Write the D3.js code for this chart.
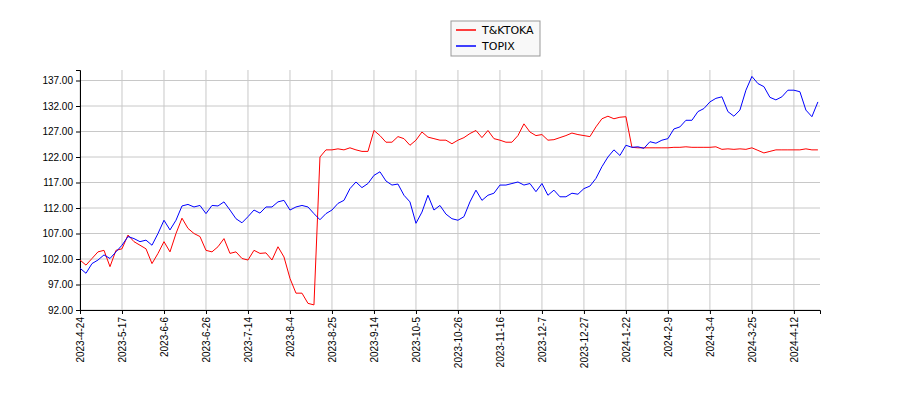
<!DOCTYPE html>
<html>
<head>
<meta charset="utf-8">
<script src="https://cdn.jsdelivr.net/npm/d3@7.9.0/dist/d3.min.js"></script>
<style>
  body { margin: 0; background: #fff; }
  svg { font-family: "DejaVu Sans", sans-serif; }
</style>
</head>
<body>
<svg id="chart" width="900" height="400"></svg>
<script>
// one value every 2 trading days
const tkToka = [
  101.8, 100.8, 102.1, 103.4, 103.7, 100.5, 103.7, 104.0, 106.7, 105.4,
  104.7, 104.0, 101.1, 103.1, 105.4, 103.4, 107.0, 110.0, 108.0, 107.0,
  106.4, 103.7, 103.4, 104.4, 106.0, 103.1, 103.4, 102.1, 101.8, 103.7,
  103.1, 103.2, 101.8, 104.4, 102.4, 98.2, 95.3, 95.3, 93.3, 93.0,
  122.0, 123.4, 123.4, 123.6, 123.4, 123.8, 123.4, 123.1, 123.1, 127.2,
  126.2, 124.9, 124.9, 126.0, 125.6, 124.3, 125.3, 126.9, 125.9, 125.6,
  125.3, 125.3, 124.6,
  125.3, 125.8, 126.6, 127.2, 125.8, 127.2, 125.6, 125.3, 124.9, 124.9,
  126.2, 128.5, 126.9, 126.2, 126.4, 125.3, 125.4, 125.8, 126.2, 126.7,
  126.4, 126.2, 126.0, 127.9, 129.5, 130.0, 129.5, 129.8, 129.9, 123.9,
  123.8, 123.8, 123.8, 123.8, 123.8, 123.8, 123.9, 123.9, 124.0, 123.9,
  123.9, 123.9, 123.9, 124.0, 123.5, 123.6, 123.5, 123.6, 123.5, 123.8,
  123.3, 122.8, 123.1, 123.4, 123.4, 123.4, 123.4, 123.4, 123.6, 123.4,
  123.4
];
const topix = [
  100.2, 99.2, 101.1, 101.8, 102.8, 102.1, 103.4, 104.7, 106.4, 106.0,
  105.4, 105.7, 104.7, 107.0, 109.6, 107.7, 109.6, 112.4, 112.7, 112.2,
  112.5, 110.9, 112.5, 112.4, 113.2, 111.6, 109.9, 109.1, 110.3, 111.6,
  111.0, 112.2, 112.2, 113.2, 113.5, 111.6, 112.2, 112.5, 112.2, 110.9,
  109.7, 110.9, 111.6, 112.9, 113.5, 115.8, 117.1, 116.0, 116.8, 118.4,
  119.1, 117.3, 116.5, 116.7, 114.5, 113.2, 109.0, 111.2, 114.5, 111.6,
  112.5, 110.8, 109.9,
  109.6, 110.3, 113.2, 115.5, 113.5, 114.5, 114.9, 116.5, 116.5, 116.8,
  117.1, 116.5, 116.8, 115.2, 116.8, 114.5, 115.5, 114.2, 114.2, 114.9,
  114.7, 115.8, 116.3, 117.8, 120.1, 122.0, 123.4, 122.3, 124.3, 123.9,
  124.0, 123.7, 125.0, 124.7, 125.3, 125.6, 127.5, 127.9, 129.2, 129.2,
  130.9, 131.5, 132.8, 133.5, 133.8, 130.9, 130.0, 131.2, 135.1, 137.8,
  136.4, 135.8, 133.7, 133.2, 133.8, 135.1, 135.1, 134.8, 131.2, 129.9,
  132.8
];
const dayStep = 2;
const tickLabels = [
  '2023-4-24', '2023-5-17', '2023-6-6', '2023-6-26', '2023-7-14', '2023-8-4',
  '2023-8-25', '2023-9-14', '2023-10-5', '2023-10-26', '2023-11-16', '2023-12-7',
  '2023-12-27', '2024-1-22', '2024-2-9', '2024-3-4', '2024-3-25', '2024-4-12'
];
const tickEvery = 14; // trading days between labels
const yTicks = d3.range(92, 138, 5);
const seriesNames = ['T&KTOKA', 'TOPIX'];
const seriesColors = ['#ff0000', '#0000ff'];

const pLeft = 80, pRight = 820, pTop = 70, pBottom = 310;
const svg = d3.select('#chart');

const x = d3.scaleLinear().domain([0, 246.7]).range([pLeft, pRight]);
const y = d3.scaleLinear().domain([92, 139.06]).range([pBottom, pTop]);

// grid
svg.append('g')
  .selectAll('line')
  .data(tickLabels)
  .join('line')
    .attr('x1', (_, i) => x(i * tickEvery)).attr('x2', (_, i) => x(i * tickEvery))
    .attr('y1', pTop).attr('y2', pBottom)
    .attr('stroke', '#c8c8c8').attr('stroke-width', 1);
svg.append('g')
  .selectAll('line')
  .data(yTicks)
  .join('line')
    .attr('x1', pLeft).attr('x2', pRight)
    .attr('y1', d => y(d)).attr('y2', d => y(d))
    .attr('stroke', '#c8c8c8').attr('stroke-width', 1);

// axes
const yAxis = d3.axisLeft(y).tickValues(yTicks).tickFormat(d3.format('.2f')).tickSize(4);
svg.append('g').attr('transform', `translate(${pLeft},0)`).call(yAxis)
  .call(g => g.selectAll('text').attr('font-size', 10).attr('fill', '#000'))
  .call(g => g.select('.domain').attr('stroke', '#000'));

const xAxis = d3.axisBottom(x)
  .tickValues(tickLabels.map((_, i) => i * tickEvery))
  .tickFormat((_, i) => tickLabels[i]).tickSize(4);
svg.append('g').attr('transform', `translate(0,${pBottom})`).call(xAxis)
  .call(g => g.select('.domain').attr('stroke', '#000'))
  .call(g => g.selectAll('text')
    .attr('font-size', 10).attr('fill', '#000')
    .attr('text-anchor', 'end')
    .attr('transform', 'rotate(-90)')
    .attr('x', -7).attr('y', 0).attr('dy', '0.35em'));

// lines
const line = d3.line().x((_, i) => x(i * dayStep)).y(d => y(d));
[tkToka, topix].forEach((s, k) => {
  svg.append('path').datum(s)
    .attr('d', line)
    .attr('fill', 'none')
    .attr('stroke', seriesColors[k])
    .attr('stroke-width', 1);
});

// legend
const lg = svg.append('g').attr('transform', 'translate(451,21)');
lg.append('rect').attr('width', 89).attr('height', 35)
  .attr('fill', '#f8f8f8').attr('stroke', '#999');
seriesNames.forEach((n, i) => {
  lg.append('line').attr('x1', 5).attr('x2', 25)
    .attr('y1', 9 + i * 16).attr('y2', 9 + i * 16)
    .attr('stroke', seriesColors[i]).attr('stroke-width', 1.5);
  lg.append('text').attr('x', 31).attr('y', 9 + i * 16).attr('dy', '0.35em')
    .attr('font-size', 11).text(n);
});
</script>
</body>
</html>
